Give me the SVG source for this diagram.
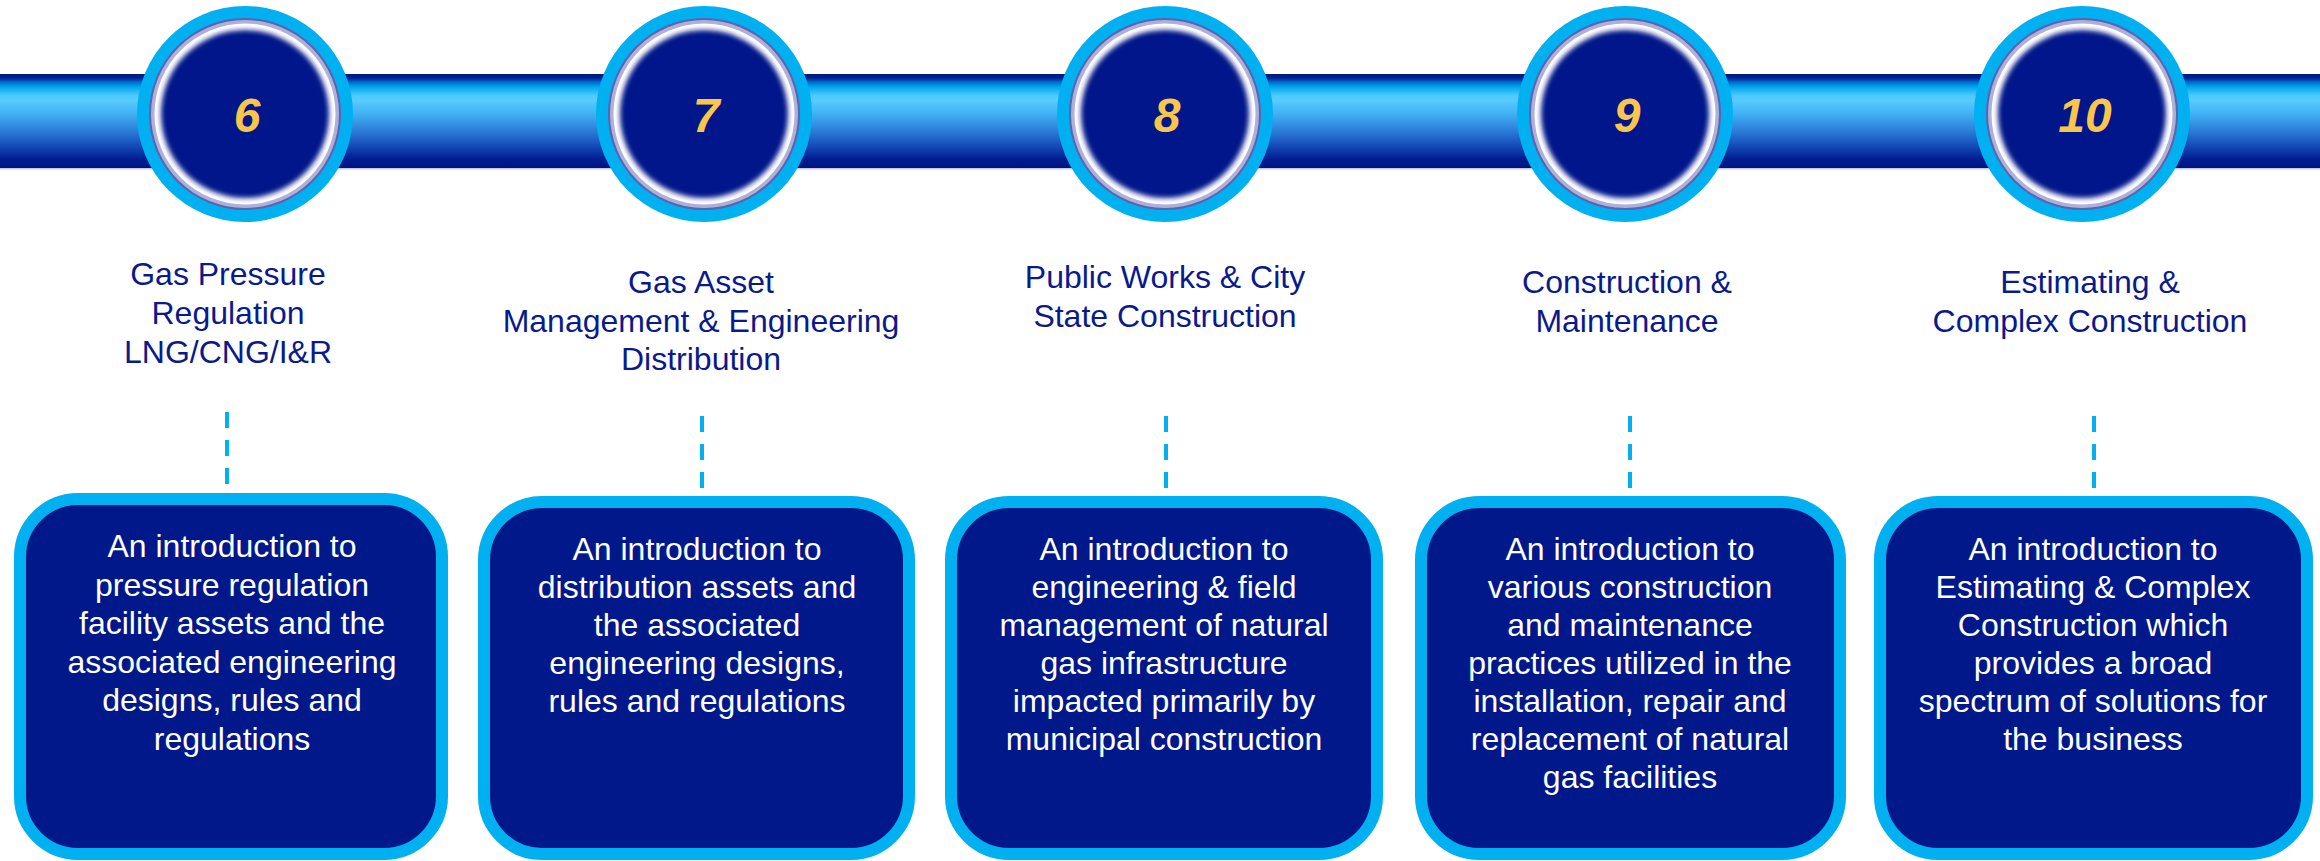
<svg xmlns="http://www.w3.org/2000/svg" width="2320" height="861" viewBox="0 0 2320 861">
  <defs>
    <linearGradient id="barGrad" x1="0" y1="0" x2="0" y2="1">
      <stop offset="0" stop-color="#001a80"/>
      <stop offset="0.04" stop-color="#00208f"/>
      <stop offset="0.09" stop-color="#0070d0"/>
      <stop offset="0.14" stop-color="#00a8ec"/>
      <stop offset="0.23" stop-color="#50c8ff"/>
      <stop offset="0.28" stop-color="#58ccff"/>
      <stop offset="0.42" stop-color="#40b2f4"/>
      <stop offset="0.62" stop-color="#2a78d6"/>
      <stop offset="0.80" stop-color="#1040b0"/>
      <stop offset="0.91" stop-color="#001c90"/>
      <stop offset="1" stop-color="#001480"/>
    </linearGradient>
    <filter id="soft" x="-20%" y="-20%" width="140%" height="140%">
      <feGaussianBlur stdDeviation="2.6"/>
    </filter>
  </defs>
  <style>
    .title { font-family: "Liberation Sans", Arial, sans-serif; font-size: 32px; fill: #0a1a8c; text-anchor: middle; }
    .body { font-family: "Liberation Sans", Arial, sans-serif; font-size: 32px; fill: #ffffff; text-anchor: middle; }
    .num { font-family: "Liberation Sans", Arial, sans-serif; font-size: 48px; font-weight: bold; font-style: italic; fill: #f8c64a; text-anchor: middle; }
    .box { fill: #00188a; stroke: #00b0f0; stroke-width: 12; }
    .dash { stroke: #00b0f0; stroke-width: 4; stroke-dasharray: 16 12; fill: none; }
    .ring0 { fill: #00b0f0; }
    .ring1 { fill: #5c62ae; }
    .ring2 { fill: #aeb0da; }
    .ring3 { fill: #ffffff; }
    .core { fill: #00188a; filter: url(#soft); }
  </style>

  <rect width="2320" height="861" fill="#ffffff"/>

  <!-- timeline bar -->
  <g id="bar">
    <rect x="0" y="74" width="2320" height="94" fill="url(#barGrad)"/>
    <rect x="0" y="168" width="2320" height="1.5" fill="#c6c8e4"/>
  </g>

  <!-- dashed links from titles to boxes -->
  <g id="connectors">
    <line class="dash" x1="227" y1="412" x2="227" y2="486"/>
    <line class="dash" x1="702" y1="416" x2="702" y2="490"/>
    <line class="dash" x1="1166" y1="416" x2="1166" y2="490"/>
    <line class="dash" x1="1630" y1="416" x2="1630" y2="490"/>
    <line class="dash" x1="2094" y1="416" x2="2094" y2="490"/>
  </g>

  <g id="step6">
    <circle class="ring0" cx="245" cy="114" r="108"/>
    <circle class="ring1" cx="245" cy="114" r="96"/>
    <circle class="ring2" cx="245" cy="114" r="94"/>
    <circle class="ring3" cx="245" cy="114" r="90.5"/>
    <circle class="core" cx="245" cy="114" r="84"/>
    <text class="num" x="247" y="132">6</text>
    <text class="title" x="228" y="285">Gas Pressure</text>
    <text class="title" x="228" y="324">Regulation</text>
    <text class="title" x="228" y="363">LNG/CNG/I&amp;R</text>
    <rect class="box" x="20" y="499" width="422" height="355" rx="58"/>
    <text class="body" x="232" y="557">An introduction to</text>
    <text class="body" x="232" y="595.5">pressure regulation</text>
    <text class="body" x="232" y="634">facility assets and the</text>
    <text class="body" x="232" y="672.5">associated engineering</text>
    <text class="body" x="232" y="711">designs, rules and</text>
    <text class="body" x="232" y="749.5">regulations</text>
  </g>

  <g id="step7">
    <circle class="ring0" cx="704" cy="114" r="108"/>
    <circle class="ring1" cx="704" cy="114" r="96"/>
    <circle class="ring2" cx="704" cy="114" r="94"/>
    <circle class="ring3" cx="704" cy="114" r="90.5"/>
    <circle class="core" cx="704" cy="114" r="84"/>
    <text class="num" x="706" y="132">7</text>
    <text class="title" x="701" y="293">Gas Asset</text>
    <text class="title" x="701" y="332">Management &amp; Engineering</text>
    <text class="title" x="701" y="370">Distribution</text>
    <rect class="box" x="484" y="502" width="425" height="352" rx="58"/>
    <text class="body" x="697" y="560">An introduction to</text>
    <text class="body" x="697" y="598">distribution assets and</text>
    <text class="body" x="697" y="636">the associated</text>
    <text class="body" x="697" y="674">engineering designs,</text>
    <text class="body" x="697" y="712">rules and regulations</text>
  </g>

  <g id="step8">
    <circle class="ring0" cx="1165" cy="114" r="108"/>
    <circle class="ring1" cx="1165" cy="114" r="96"/>
    <circle class="ring2" cx="1165" cy="114" r="94"/>
    <circle class="ring3" cx="1165" cy="114" r="90.5"/>
    <circle class="core" cx="1165" cy="114" r="84"/>
    <text class="num" x="1167" y="132">8</text>
    <text class="title" x="1165" y="288">Public Works &amp; City</text>
    <text class="title" x="1165" y="327">State Construction</text>
    <rect class="box" x="951" y="502" width="426" height="352" rx="58"/>
    <text class="body" x="1164" y="560">An introduction to</text>
    <text class="body" x="1164" y="598">engineering &amp; field</text>
    <text class="body" x="1164" y="636">management of natural</text>
    <text class="body" x="1164" y="674">gas infrastructure</text>
    <text class="body" x="1164" y="712">impacted primarily by</text>
    <text class="body" x="1164" y="750">municipal construction</text>
  </g>

  <g id="step9">
    <circle class="ring0" cx="1625" cy="114" r="108"/>
    <circle class="ring1" cx="1625" cy="114" r="96"/>
    <circle class="ring2" cx="1625" cy="114" r="94"/>
    <circle class="ring3" cx="1625" cy="114" r="90.5"/>
    <circle class="core" cx="1625" cy="114" r="84"/>
    <text class="num" x="1627" y="132">9</text>
    <text class="title" x="1627" y="293">Construction &amp;</text>
    <text class="title" x="1627" y="332">Maintenance</text>
    <rect class="box" x="1421" y="502" width="419" height="352" rx="58"/>
    <text class="body" x="1630" y="560">An introduction to</text>
    <text class="body" x="1630" y="598">various construction</text>
    <text class="body" x="1630" y="636">and maintenance</text>
    <text class="body" x="1630" y="674">practices utilized in the</text>
    <text class="body" x="1630" y="712">installation, repair and</text>
    <text class="body" x="1630" y="750">replacement of natural</text>
    <text class="body" x="1630" y="788">gas facilities</text>
  </g>

  <g id="step10">
    <circle class="ring0" cx="2082" cy="114" r="108"/>
    <circle class="ring1" cx="2082" cy="114" r="96"/>
    <circle class="ring2" cx="2082" cy="114" r="94"/>
    <circle class="ring3" cx="2082" cy="114" r="90.5"/>
    <circle class="core" cx="2082" cy="114" r="84"/>
    <text class="num" x="2085" y="132">10</text>
    <text class="title" x="2090" y="293">Estimating &amp;</text>
    <text class="title" x="2090" y="332">Complex Construction</text>
    <rect class="box" x="1880" y="502" width="427" height="352" rx="58"/>
    <text class="body" x="2093" y="560">An introduction to</text>
    <text class="body" x="2093" y="598">Estimating &amp; Complex</text>
    <text class="body" x="2093" y="636">Construction which</text>
    <text class="body" x="2093" y="674">provides a broad</text>
    <text class="body" x="2093" y="712">spectrum of solutions for</text>
    <text class="body" x="2093" y="750">the business</text>
  </g>
</svg>
